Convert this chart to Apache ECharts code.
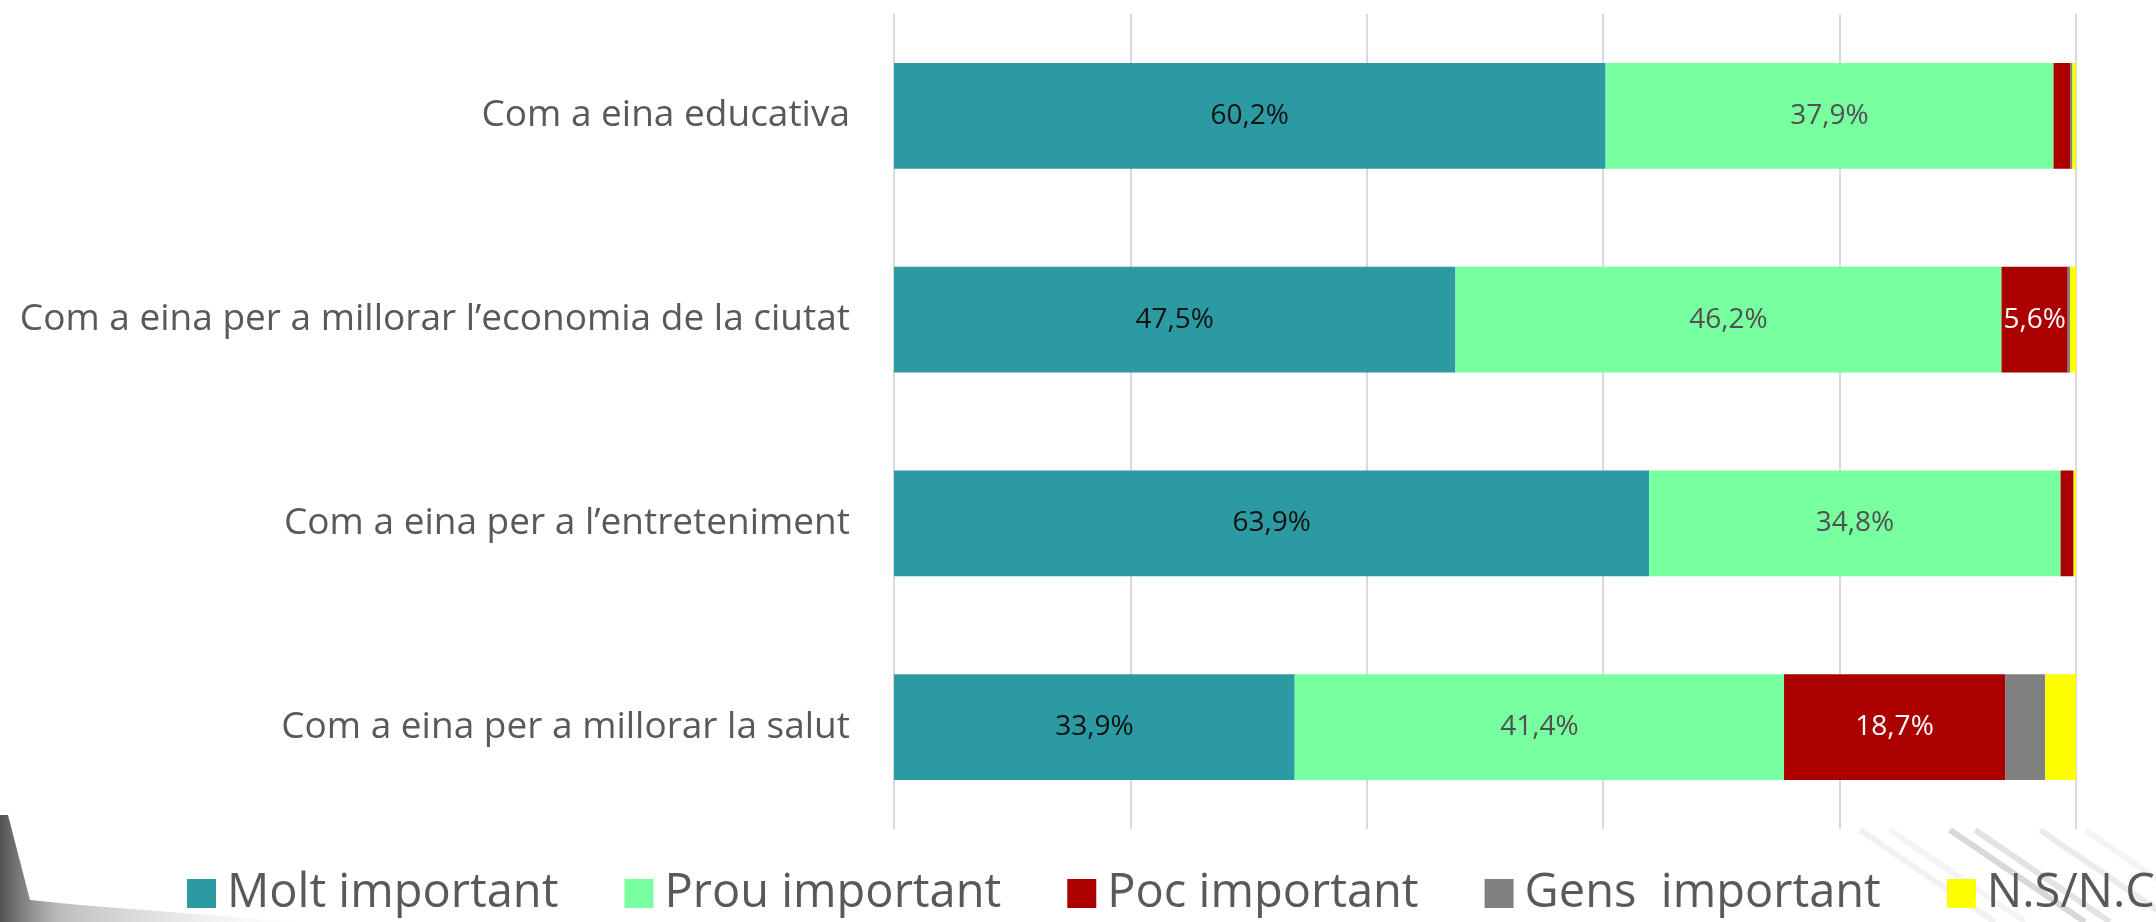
<!DOCTYPE html>
<head>
  <meta charset="utf-8">
  <title>Importància</title>
  <script src="https://cdn.jsdelivr.net/npm/echarts@6/dist/echarts.min.js"></script>
  <style>
    html, body { margin: 0; padding: 0; background: #fff; }
    #main { width: 2156px; height: 922px; }
  </style>
</head>
<body>
  <div id="main"></div>
  <script>
    // categories, top to bottom
    var categories = [
      'Com a eina educativa',
      'Com a eina per a millorar l\u2019economia de la ciutat',
      'Com a eina per a l\u2019entreteniment',
      'Com a eina per a millorar la salut'
    ];
    var seriesNames = ['Molt important', 'Prou important', 'Poc important', 'Gens  important', 'N.S/N.C'];
    var moltImportant = [60.2, 47.5, 63.9, 33.9];
    var prouImportant = [37.9, 46.2, 34.8, 41.4];
    var pocImportant = [1.4, 5.6, 1.1, 18.7];
    var gensImportant = [0.2, 0.2, 0.0, 3.4];
    var nsnc = [0.3, 0.5, 0.2, 2.6];
    var xTicks = [0, 20, 40, 60, 80, 100];

    var colors = ['#2B9AA2', '#77FFA0', '#AA0000', '#808080', '#FFFF00'];
    var labelColors = ['#111111', '#505050', '#ffffff', null, null];
    var values = [moltImportant, prouImportant, pocImportant, gensImportant, nsnc];

    function pct(p) {
      if (p.value < 3) return '';
      return p.value.toFixed(1).replace('.', ',') + '%';
    }

    var myChart = echarts.init(document.getElementById('main'));

    var series = seriesNames.map(function(name, i) {
      return {
        name: name,
        type: 'bar',
        stack: 'total',
        barCategoryGap: '48%',
        itemStyle: { color: colors[i] },
        label: {
          show: labelColors[i] !== null,
          position: 'inside',
          color: labelColors[i] || '#000',
          fontFamily: 'Open Sans',
          fontSize: 28,
          formatter: pct
        },
        emphasis: { disabled: true },
        data: values[i]
      };
    });

    // faint decoration behind the legend (background picture of the slide)
    var deco = [
      {
        type: 'polygon', z: -10, silent: true,
        shape: { points: [[0, 815], [8, 815], [30, 900], [80, 905], [300, 922], [0, 922]] },
        style: {
          fill: new echarts.graphic.LinearGradient(0, 0, 1, 0, [
            { offset: 0, color: 'rgba(40,40,40,0.8)' },
            { offset: 0.2, color: 'rgba(90,90,90,0.4)' },
            { offset: 1, color: 'rgba(200,200,200,0)' }
          ])
        }
      }
    ];
    [[1860, 0.07], [1890, 0.06], [1950, 0.2], [1975, 0.14], [2040, 0.1], [2085, 0.06]].forEach(function(s) {
      deco.push({
        type: 'line', z: -10, silent: true,
        shape: { x1: s[0], y1: 830, x2: s[0] + 135, y2: 922 },
        style: { stroke: 'rgba(60,60,60,' + s[1] + ')', lineWidth: 6 }
      });
    });

    var option = {
      backgroundColor: '#ffffff',
      animation: false,
      textStyle: { fontFamily: 'Open Sans' },
      grid: { left: 894, right: 80, top: 14, bottom: 93 },
      graphic: deco,
      legend: {
        data: seriesNames,
        left: 182,
        top: 865,
        width: 3000,
        itemWidth: 29,
        itemHeight: 29,
        itemGap: 66,
        icon: 'rect',
        textStyle: { fontSize: 47, color: '#595959', fontFamily: 'Open Sans', padding: [0, 0, 0, 6] }
      },
      xAxis: {
        type: 'value',
        min: xTicks[0],
        max: xTicks[xTicks.length - 1],
        interval: 20,
        axisLabel: { show: false },
        axisLine: { show: false },
        axisTick: { show: false },
        splitLine: { show: true, lineStyle: { color: '#D9D9D9', width: 2 } }
      },
      yAxis: {
        type: 'category',
        inverse: true,
        data: categories,
        axisLine: { show: false },
        axisTick: { show: false },
        axisLabel: { fontSize: 37, color: '#595959', margin: 44, fontFamily: 'Open Sans' }
      },
      series: series
    };

    myChart.setOption(option);
  </script>
</body>
